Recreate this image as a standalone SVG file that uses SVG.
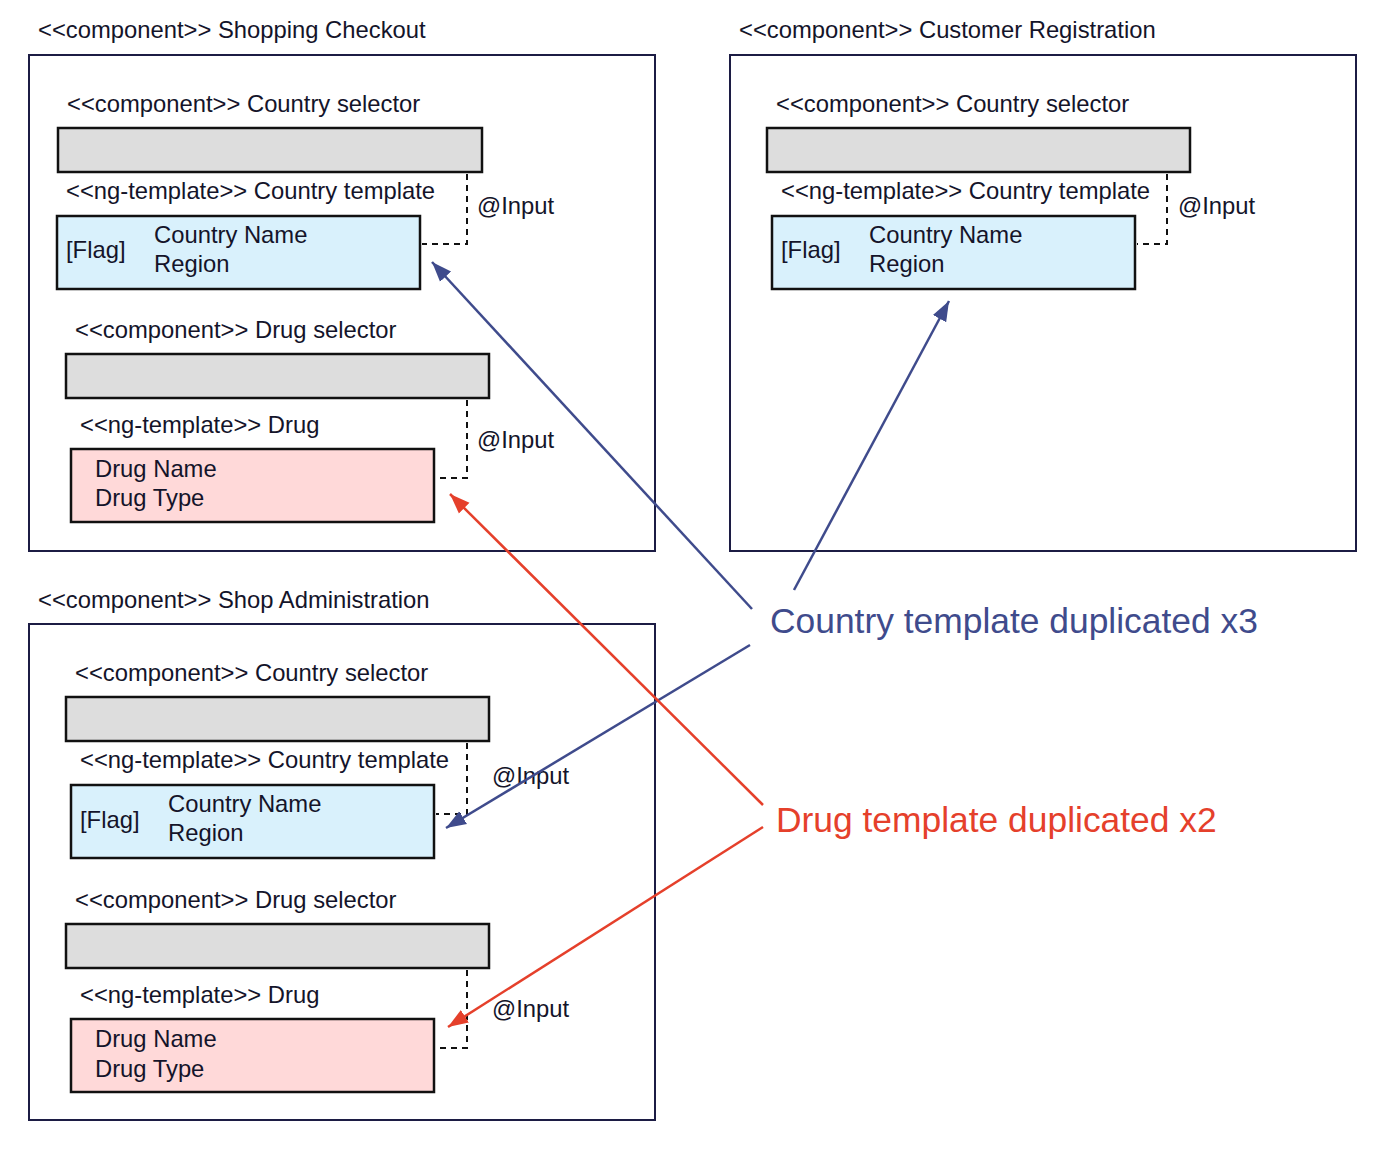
<svg xmlns="http://www.w3.org/2000/svg" width="1400" height="1163" viewBox="0 0 1400 1163">
<defs>
<style>
text{font-family:"Liberation Sans",Arial,sans-serif;fill:#14142a;}
.t{font-size:23.8px;}
.big{font-size:35.4px;}
.panel{fill:none;stroke:#1c1c44;stroke-width:2;}
.bar{fill:#dddddd;stroke:#111;stroke-width:2.5;}
.cbox{fill:#d9f1fc;stroke:#111;stroke-width:2.5;}
.dbox{fill:#ffd9d9;stroke:#111;stroke-width:2.5;}
.dash{fill:none;stroke:#111;stroke-width:2;stroke-dasharray:6,5;}
.blue{stroke:#3f4b8c;stroke-width:2.5;fill:none;}
.red{stroke:#e5402b;stroke-width:2.5;fill:none;}
</style>
<marker id="ab" markerUnits="userSpaceOnUse" markerWidth="22" markerHeight="22" viewBox="0 0 22 22" refX="20" refY="11" orient="auto"><path d="M0,3.5 L20,11 L0,18.5 Z" fill="#3f4b8c"/></marker>
<marker id="ar" markerUnits="userSpaceOnUse" markerWidth="22" markerHeight="22" viewBox="0 0 22 22" refX="20" refY="11" orient="auto"><path d="M0,3.5 L20,11 L0,18.5 Z" fill="#e5402b"/></marker>
</defs>
<rect width="1400" height="1163" fill="#fff"/>

<g id="shopping-checkout">
<text class="t" x="38" y="38">&lt;&lt;component&gt;&gt; Shopping Checkout</text>
<rect class="panel" x="29" y="55" width="626" height="496"/>
<g id="sc-country-selector">
<text class="t" x="67" y="112">&lt;&lt;component&gt;&gt; Country selector</text>
<rect class="bar" x="58" y="128" width="424" height="44"/>
<text class="t" x="66" y="199">&lt;&lt;ng-template&gt;&gt; Country template</text>
<rect class="cbox" x="57" y="216" width="363" height="73"/>
<text class="t" x="66" y="258">[Flag]</text>
<text class="t" x="154" y="243">Country Name</text>
<text class="t" x="154" y="272">Region</text>
<path class="dash" d="M467,174 V244 H422"/>
<text class="t" x="477" y="214">@Input</text>
</g>
<g id="sc-drug-selector">
<text class="t" x="75" y="338">&lt;&lt;component&gt;&gt; Drug selector</text>
<rect class="bar" x="66" y="354" width="423" height="44"/>
<text class="t" x="80" y="433">&lt;&lt;ng-template&gt;&gt; Drug</text>
<rect class="dbox" x="71" y="449" width="363" height="73"/>
<text class="t" x="95" y="477">Drug Name</text>
<text class="t" x="95" y="506">Drug Type</text>
<path class="dash" d="M467,400 V478 H436"/>
<text class="t" x="477" y="448">@Input</text>
</g>
</g>

<g id="customer-registration">
<text class="t" x="739" y="38">&lt;&lt;component&gt;&gt; Customer Registration</text>
<rect class="panel" x="730" y="55" width="626" height="496"/>
<g id="cr-country-selector">
<text class="t" x="776" y="112">&lt;&lt;component&gt;&gt; Country selector</text>
<rect class="bar" x="767" y="128" width="423" height="44"/>
<text class="t" x="781" y="199">&lt;&lt;ng-template&gt;&gt; Country template</text>
<rect class="cbox" x="772" y="216" width="363" height="73"/>
<text class="t" x="781" y="258">[Flag]</text>
<text class="t" x="869" y="243">Country Name</text>
<text class="t" x="869" y="272">Region</text>
<path class="dash" d="M1167,174 V244 H1137"/>
<text class="t" x="1178" y="214">@Input</text>
</g>
</g>

<g id="shop-administration">
<text class="t" x="38" y="608">&lt;&lt;component&gt;&gt; Shop Administration</text>
<rect class="panel" x="29" y="624" width="626" height="496"/>
<g id="sa-country-selector">
<text class="t" x="75" y="681">&lt;&lt;component&gt;&gt; Country selector</text>
<rect class="bar" x="66" y="697" width="423" height="44"/>
<text class="t" x="80" y="768">&lt;&lt;ng-template&gt;&gt; Country template</text>
<rect class="cbox" x="71" y="785" width="363" height="73"/>
<text class="t" x="80" y="828">[Flag]</text>
<text class="t" x="168" y="812">Country Name</text>
<text class="t" x="168" y="841">Region</text>
<path class="dash" d="M467,743 V814 H436"/>
<text class="t" x="492" y="784">@Input</text>
</g>
<g id="sa-drug-selector">
<text class="t" x="75" y="908">&lt;&lt;component&gt;&gt; Drug selector</text>
<rect class="bar" x="66" y="924" width="423" height="44"/>
<text class="t" x="80" y="1003">&lt;&lt;ng-template&gt;&gt; Drug</text>
<rect class="dbox" x="71" y="1019" width="363" height="73"/>
<text class="t" x="95" y="1047">Drug Name</text>
<text class="t" x="95" y="1077">Drug Type</text>
<path class="dash" d="M467,970 V1048 H436"/>
<text class="t" x="492" y="1017">@Input</text>
</g>
</g>

<g id="country-note">
<text class="big" x="770" y="633" style="fill:#3f4b8c">Country template duplicated x3</text>
</g>
<g id="drug-note">
<text class="big" x="776" y="832" style="fill:#e5402b">Drug template duplicated x2</text>
</g>

<g id="connectors">
<line class="blue" x1="752" y1="609" x2="432" y2="262" marker-end="url(#ab)"/>
<line class="blue" x1="794" y1="590" x2="949" y2="301" marker-end="url(#ab)"/>
<line class="blue" x1="750" y1="645" x2="446" y2="828" marker-end="url(#ab)"/>
<line class="red" x1="763" y1="805" x2="450" y2="494" marker-end="url(#ar)"/>
<line class="red" x1="763" y1="827" x2="448" y2="1027" marker-end="url(#ar)"/>
</g>
</svg>
